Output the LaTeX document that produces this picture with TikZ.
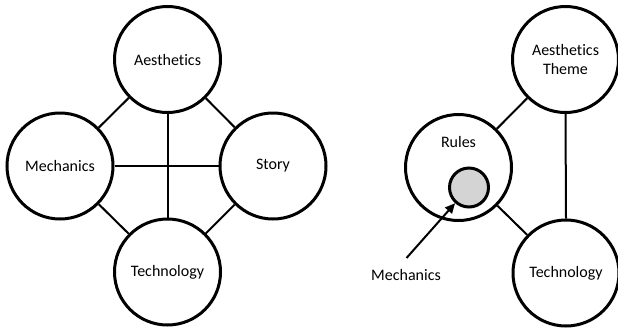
\documentclass[tikz,border=0pt]{standalone}
\usepackage{fontspec}
\setmainfont{Carlito}[Ligatures={NoCommon}]
\usetikzlibrary{arrows.meta}
\begin{document}
\begin{tikzpicture}[x=1pt,y=-1pt,
  bigc/.style={circle,draw=black,line width=3pt,minimum size=106pt,inner sep=0pt,fill=white,font=\fontsize{16}{19.5}\selectfont,align=center},
  smallc/.style={circle,draw=black,line width=3pt,minimum size=39pt,inner sep=0pt,fill=black!17},
  conn/.style={line width=2pt,draw=black},
  lbl/.style={font=\fontsize{16}{19.5}\selectfont,inner sep=0pt}]
\useasboundingbox (0,0) rectangle (618,333);
% left diagram
\node[bigc] (aes) at (167.5,59.5) {Aesthetics};
\node[bigc] (mech) at (60,166) {Mechanics};
\node[bigc] (story) at (273,166) {Story};
\node[bigc] (tech) at (167.5,272) {Technology};
\draw[conn] (aes) -- (mech);
\draw[conn] (aes) -- (story);
\draw[conn] (tech) -- (mech);
\draw[conn] (tech) -- (story);
\draw[conn] (aes) -- (tech);
\draw[conn] (mech) -- (story);
% right diagram
\node[bigc] (aest) at (565.5,59.5) {Aesthetics\\Theme};
\node[bigc] (rules) at (458.5,167.5) {};
\node[lbl] (rulest) at (458.5,142) {Rules};
\node[smallc] (mechc) at (469,187.5) {};
\node[bigc] (tech2) at (566,273) {Technology};
\draw[conn] (aest) -- (rules);
\draw[conn] (rules) -- (tech2);
\draw[conn] (aest.south) -- (tech2.north);
\node[lbl] (mechl) at (406,275) {Mechanics};
\coordinate (arrs) at (406.5,258);
\draw[conn,-{Triangle[length=10pt,width=9pt]}] (arrs) -- (mechc);
\end{tikzpicture}
\end{document}
